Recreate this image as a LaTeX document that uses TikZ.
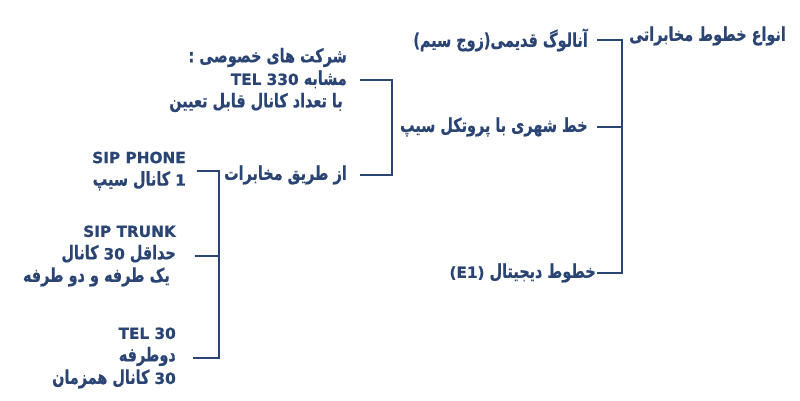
\documentclass[tikz,border=0pt]{standalone}
\usepackage{graphicx}
\usepackage{fontspec}
\setmainfont{DejaVu Sans}
\newfontfamily\fa[Script=Arabic, BoldFeatures={FakeBold=0.6}]{DejaVu Sans}
\TeXXeTstate=1
\definecolor{navy}{HTML}{2A4474}
\newcommand\AR[1]{\scalebox{1}[1.32]{\beginR #1\endR}}
\newcommand\LT[1]{\scalebox{1}[0.76]{\fontsize{15.3}{22.5}\selectfont #1}}
\begin{document}
\begin{tikzpicture}[x=1pt,y=-1pt,
  lbl/.style={inner sep=0pt, anchor=east, align=right, text=navy,
    font=\fa\bfseries\fontsize{14.4}{22.5}\selectfont},
  conn/.style={draw=navy, line width=1.8pt}]
\fill[white] (0,0) rectangle (800,400);
\useasboundingbox (0,0) rectangle (800,400);
% level 0
\node[lbl] (root) at (786,36) {\AR{انواع خطوط مخابراتی}};
% level 1
\node[lbl] (analog) at (588,40) {\AR{آنالوگ قدیمی(زوج سیم)}};
\node[lbl] (sipcity) at (588,127) {\AR{خط شهری با پروتکل سیپ}};
\node[lbl] (digital) at (596,273) {\AR{خطوط دیجیتال \beginL\LT{(E1)}\endL}};
% level 2
\node[lbl] (private) at (347,80) {\AR{شرکت های خصوصی :}\\
  \AR{مشابه \beginL\LT{TEL 330}\endL}\\
  \AR{\hspace{4pt}با تعداد کانال قابل تعیین}};
\node[lbl] (mokh) at (347,175) {\AR{از طریق مخابرات}};
% level 3
\node[lbl] (sipphone) at (186,171) {\scalebox{1}[1.32]{\LT{SIP PHONE}}\\ \AR{\beginL\LT{1}\endL{} کانال سیپ}};
\node[lbl] (siptrunk) at (176,256) {\scalebox{1}[1.32]{\LT{SIP TRUNK}}\\ \AR{حداقل \beginL\LT{30}\endL{} کانال}\\
  \AR{\hspace{6pt}یک طرفه و دو طرفه}};
\node[lbl] (tel) at (176,358) {\scalebox{1}[1.32]{\LT{TEL 30}}\\ \AR{دوطرفه}\\ \AR{\beginL\LT{30}\endL{} کانال همزمان}};
% junction columns
\coordinate (j1) at (622,0);
\coordinate (j2) at (392,0);
\coordinate (j3) at (219,0);
% bracket 1
\draw[conn] ([xshift=9pt]analog.east) -- (analog.east -| j1) -- (digital.east -| j1) -- ([xshift=1pt]digital.east);
\draw[conn] ([xshift=9pt]sipcity.east) -- (sipcity.east -| j1);
% bracket 2
\draw[conn] ([xshift=13pt]private.east) -- (private.east -| j2) -- (mokh.east -| j2) -- ([xshift=13pt]mokh.east);
% bracket 3
\draw[conn] ([xshift=11pt]sipphone.east) -- (sipphone.east -| j3) -- (tel.east -| j3) -- ([xshift=17pt]tel.east);
\draw[conn] ([xshift=19pt]siptrunk.east) -- (siptrunk.east -| j3);
\end{tikzpicture}
\end{document}
